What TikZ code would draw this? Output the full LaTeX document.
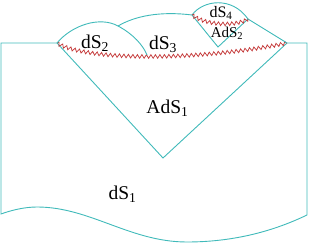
\documentclass[tikz,border=0pt]{standalone}
\usepackage{fontspec}
\setmainfont{Liberation Serif}
\usetikzlibrary{decorations.pathmorphing}

\definecolor{wallcol}{RGB}{64,186,186}
\definecolor{horcol}{RGB}{196,58,58}

\begin{document}
\begin{tikzpicture}[
  x=1pt,y=-1pt,
  wall/.style={draw=wallcol, line width=0.9pt, line join=miter},
  horizon/.style={draw=horcol, line width=0.75pt, decorate, decoration={zigzag, segment length=4.5pt, amplitude=1.8pt}},
  biglabel/.style={inner sep=0pt, font=\fontsize{19.5}{22}\selectfont},
  smalllabel/.style={inner sep=0pt, font=\fontsize{16}{19}\selectfont}
]
\useasboundingbox (0,0) rectangle (309,243);

% corners
\coordinate (cl) at (57,43);
\coordinate (cr) at (287,43);
\coordinate (tip) at (163,158);
\coordinate (ml) at (118,26);
\coordinate (al) at (192,15);
\coordinate (ar) at (248,19);
\coordinate (ab) at (218,47);

% outer dS_1 region
\draw[wall] (cl) -- (1,43) -- (1,214)
  .. controls (12,210) and (25,207) .. (37,207)
  .. controls (90,207) and (130,242) .. (187,242)
  .. controls (240,242) and (280,228) .. (307,215)
  -- (307,43) -- (cr);

% AdS_1 wedge and horizon
\draw[wall] (cl) -- (tip) -- (cr);
\draw[horizon] (cl) .. controls (85,61) and (200,61) .. (cr);

% bubbles on top
\draw[wall] (cl) .. controls (72,25) and (100,16) .. (ml)
  .. controls (133,34) and (143,45) .. (147,55);
\draw[wall] (ml) .. controls (135,16) and (160,11) .. (al);
\draw[wall] (al) .. controls (203,0) and (232,-4) .. (ar);
\draw[wall] (al) -- (ab) -- (ar) -- (cr);
\draw[horizon] (al) .. controls (205,25) and (235,27) .. (ar);

\node[biglabel] (ds2) at (95,43) {dS\textsubscript{2}};
\node[biglabel] (ds3) at (163,44) {dS\textsubscript{3}};
\node[smalllabel] (ds4) at (221,13) {dS\textsubscript{4}};
\node[smalllabel, font=\fontsize{15}{18}\selectfont] (ads2) at (227,33.5) {AdS\textsubscript{2}};
\node[biglabel] (ads1) at (167.5,108.5) {AdS\textsubscript{1}};
\node[biglabel] (ds1) at (122.5,194) {dS\textsubscript{1}};
\end{tikzpicture}
\end{document}
